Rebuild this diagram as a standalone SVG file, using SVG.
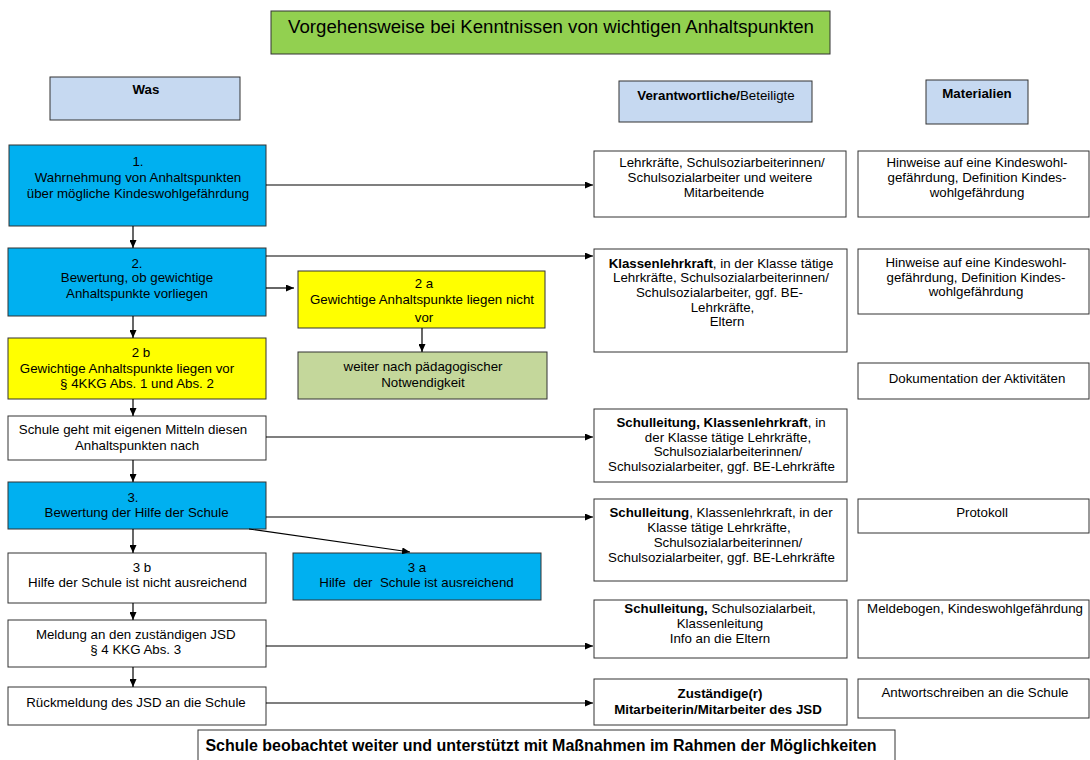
<svg xmlns="http://www.w3.org/2000/svg" width="1090" height="760" viewBox="0 0 1090 760">
<style>
text{font-family:"Liberation Sans",Arial,sans-serif;font-size:13.3px;fill:#000;text-anchor:middle}
.t{font-size:18.67px}
.b{font-weight:bold}
.b12{font-weight:bold;font-size:16px}
.box{stroke:#333;stroke-width:1}
.w{fill:#fff}
.bl{fill:#00b0f0}
.ye{fill:#ffff00}
.hd{fill:#c6d9f1}
.gr{fill:#92d050}
.ol{fill:#c4d79b}
.c line{stroke:#000;stroke-width:1.2}
</style>
<defs>
<marker id="ah" markerWidth="8" markerHeight="7" refX="8" refY="3.5" orient="auto" markerUnits="userSpaceOnUse">
<path d="M0,0 L8,3.5 L0,7 Z" fill="#000"/>
</marker>
</defs>
<rect width="1090" height="760" fill="#fff"/>

<g id="title"><rect class="box gr" x="271" y="11" width="559" height="43"/><text class="t" x="551" y="33">Vorgehensweise bei Kenntnissen von wichtigen Anhaltspunkten</text></g>
<g id="h-was"><rect class="box hd" x="50" y="77" width="190" height="43"/><text class="b" x="146" y="94">Was</text></g>
<g id="h-ver"><rect class="box hd" x="619" y="81" width="193" height="41"/><text x="716" y="100"><tspan class="b">Verantwortliche/</tspan>Beteiligte</text></g>
<g id="h-mat"><rect class="box hd" x="926" y="80" width="102" height="44"/><text class="b" x="977" y="98">Materialien</text></g>

<g id="n1"><rect class="box bl" x="9" y="145" width="257" height="81"/>
<text x="138" y="166">1.</text><text x="138" y="181.5">Wahrnehmung von Anhaltspunkten</text><text x="138" y="197.5">über mögliche Kindeswohlgefährdung</text></g>
<g id="v1"><rect class="box w" x="594" y="151" width="252" height="66"/>
<text x="722" y="167">Lehrkräfte, Schulsoziarbeiterinnen/</text><text x="720" y="182">Schulsozialarbeiter und weitere</text><text x="724" y="197">Mitarbeitende</text></g>
<g id="m1"><rect class="box w" x="858" y="151" width="231" height="66"/>
<text x="977" y="167">Hinweise auf eine Kindeswohl-</text><text x="977" y="182">gefährdung, Definition Kindes-</text><text x="977" y="197">wohlgefährdung</text></g>

<g id="n2"><rect class="box bl" x="8" y="248" width="258" height="68"/>
<text x="137" y="268">2.</text><text x="137" y="282">Bewertung, ob gewichtige</text><text x="137" y="297.7">Anhaltspunkte vorliegen</text></g>
<g id="n2a"><rect class="box ye" x="298" y="271" width="247" height="57"/>
<text x="424" y="288">2 a</text><text x="422" y="304">Gewichtige Anhaltspunkte liegen nicht</text><text x="424" y="321.7">vor</text></g>
<g id="n2a2"><rect class="box ol" x="298" y="352" width="249" height="47"/>
<text x="423" y="371">weiter nach pädagogischer</text><text x="423" y="386.7">Notwendigkeit</text></g>
<g id="n2b"><rect class="box ye" x="8" y="338" width="258" height="61"/>
<text x="141" y="357">2 b</text><text x="127" y="373">Gewichtige Anhaltspunkte liegen vor</text><text x="137" y="388">§ 4KKG Abs. 1 und Abs. 2</text></g>
<g id="v2"><rect class="box w" x="594" y="249" width="253" height="103"/>
<text x="721" y="267.5"><tspan class="b">Klassenlehrkraft</tspan>, in der Klasse tätige</text><text x="721" y="282.3">Lehrkräfte, Schulsozialarbeiterinnen/</text><text x="719.5" y="297">Schulsozialarbeiter, ggf. BE-</text><text x="722.5" y="311.8">Lehrkräfte,</text><text x="727" y="326.3">Eltern</text></g>
<g id="m2"><rect class="box w" x="858" y="249" width="231" height="65"/>
<text x="976" y="267.3">Hinweise auf eine Kindeswohl-</text><text x="976" y="281.7">gefährdung, Definition Kindes-</text><text x="976" y="296">wohlgefährdung</text></g>
<g id="m3"><rect class="box w" x="858" y="363" width="231" height="36"/>
<text x="977" y="382.5">Dokumentation der Aktivitäten</text></g>

<g id="n-schule"><rect class="box w" x="8" y="416" width="258" height="44"/>
<text x="133" y="434">Schule geht mit eigenen Mitteln diesen</text><text x="137" y="450">Anhaltspunkten nach</text></g>
<g id="v3"><rect class="box w" x="594" y="409" width="253" height="73"/>
<text x="721" y="427"><tspan class="b">Schulleitung, Klassenlehrkraft</tspan>, in</text><text x="728" y="441.5">der Klasse tätige Lehrkräfte,</text><text x="728" y="456">Schulsozialarbeiterinnen/</text><text x="721.5" y="470.5">Schulsozialarbeiter, ggf. BE-Lehrkräfte</text></g>

<g id="n3"><rect class="box bl" x="8" y="482" width="258" height="47"/>
<text x="133" y="502">3.</text><text x="136.6" y="517">Bewertung der Hilfe der Schule</text></g>
<g id="v4"><rect class="box w" x="594" y="499" width="253" height="82"/>
<text x="721" y="517"><tspan class="b">Schulleitung</tspan>, Klassenlehrkraft, in der</text><text x="719" y="532">Klasse tätige Lehrkräfte,</text><text x="728" y="546.5">Schulsozialarbeiterinnen/</text><text x="721.5" y="561.5">Schulsozialarbeiter, ggf. BE-Lehrkräfte</text></g>
<g id="m4"><rect class="box w" x="858" y="499" width="231" height="34"/>
<text x="982" y="517">Protokoll</text></g>

<g id="n3b"><rect class="box w" x="8" y="553" width="258" height="50"/>
<text x="142" y="571.7">3 b</text><text x="137.5" y="586.7">Hilfe der Schule ist nicht ausreichend</text></g>
<g id="n3a"><rect class="box bl" x="293" y="553" width="248" height="47"/>
<text x="417" y="571.7">3 a</text><text x="416.5" y="586.7" style="white-space:pre">Hilfe  der  Schule ist ausreichend</text></g>

<g id="n-meldung"><rect class="box w" x="8" y="620" width="258" height="47"/>
<text x="135.7" y="639.3">Meldung an den zuständigen JSD</text><text x="135.7" y="654">§ 4 KKG Abs. 3</text></g>
<g id="v5"><rect class="box w" x="594" y="600" width="253" height="58"/>
<text x="720" y="613"><tspan class="b">Schulleitung,</tspan> Schulsozialarbeit,</text><text x="720" y="628">Klassenleitung</text><text x="720" y="643">Info an die Eltern</text></g>
<g id="m5"><rect class="box w" x="858" y="600" width="231" height="58"/>
<text x="975" y="613">Meldebogen, Kindeswohlgefährdung</text></g>

<g id="n-rueck"><rect class="box w" x="8" y="687" width="258" height="38"/>
<text x="136" y="706.7">Rückmeldung des JSD an die Schule</text></g>
<g id="v6"><rect class="box w" x="594" y="679" width="253" height="46"/>
<text class="b" x="720" y="698">Zuständige(r)</text><text class="b" x="718" y="714">Mitarbeiterin/Mitarbeiter des JSD</text></g>
<g id="m6"><rect class="box w" x="858" y="679" width="231" height="39"/>
<text x="975" y="696.5">Antwortschreiben an die Schule</text></g>

<g id="n-final"><rect class="box w" x="198" y="730" width="697" height="45"/>
<text class="b12" x="541" y="751">Schule beobachtet weiter und unterstützt mit Maßnahmen im Rahmen der Möglichkeiten</text></g>

<g id="connectors" class="c">
<line x1="266" y1="185" x2="593" y2="185" marker-end="url(#ah)"/>
<line x1="133" y1="226" x2="133" y2="248" marker-end="url(#ah)"/>
<line x1="266" y1="256" x2="593" y2="256" marker-end="url(#ah)"/>
<line x1="266" y1="288" x2="294" y2="288" marker-end="url(#ah)"/>
<line x1="422" y1="328" x2="422" y2="352" marker-end="url(#ah)"/>
<line x1="133" y1="316" x2="133" y2="338" marker-end="url(#ah)"/>
<line x1="133" y1="399" x2="133" y2="416" marker-end="url(#ah)"/>
<line x1="266" y1="437" x2="593" y2="437" marker-end="url(#ah)"/>
<line x1="133" y1="460" x2="133" y2="482" marker-end="url(#ah)"/>
<line x1="266" y1="517" x2="593" y2="517" marker-end="url(#ah)"/>
<line x1="133" y1="529" x2="133" y2="553" marker-end="url(#ah)"/>
<line x1="249" y1="529" x2="410" y2="552" marker-end="url(#ah)"/>
<line x1="133" y1="603" x2="133" y2="620" marker-end="url(#ah)"/>
<line x1="266" y1="646" x2="593" y2="646" marker-end="url(#ah)"/>
<line x1="133" y1="667" x2="133" y2="687" marker-end="url(#ah)"/>
<line x1="266" y1="703" x2="593" y2="703" marker-end="url(#ah)"/>
</g>
</svg>
